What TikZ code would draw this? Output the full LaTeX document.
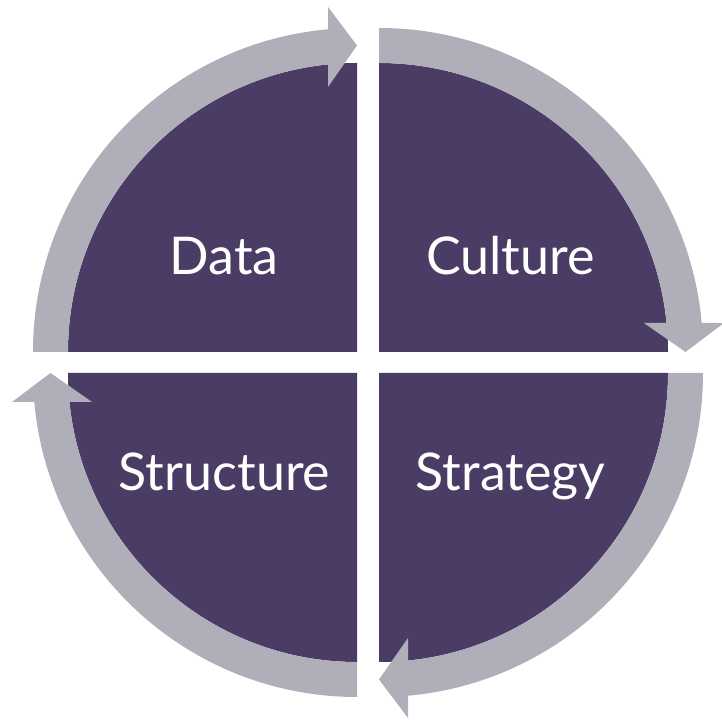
\documentclass[tikz,border=0pt]{standalone}
\usepackage{fontspec}
\setmainfont{Lato}
\usetikzlibrary{calc}
\definecolor{quartercolor}{RGB}{74,60,100}
\definecolor{bandcolor}{RGB}{176,174,185}
\tikzstyle{quarter}=[fill=quartercolor]
\tikzstyle{band}=[fill=bandcolor]
\tikzstyle{word}=[text=white,font=\fontsize{52}{62}\selectfont,inner sep=0pt,anchor=base]

\begin{document}
\begin{tikzpicture}[x=1pt,y=1pt]
				\useasboundingbox (0,0) rectangle (722,722);
				% First we draw the quarters, their bands and arrow heads
				\foreach \cx/\cy/\start/\stop in {357/370/180/90, 379/370/90/0,
										379/349/0/-90, 357/349/270/180}
				{
				\coordinate (c) at (\cx,\cy);
				\fill[quarter] (c) -- ($(c)+(\start:289)$) arc[start angle=\start, end angle=\stop, radius=289] -- cycle;
				\fill[band] ($(c)+(\start:289)$) arc[start angle=\start, end angle=\stop+4, radius=289]
					-- ($(c)+(\stop+4:324)$) arc[start angle=\stop+4, end angle=\start, radius=324] -- cycle;
				\fill[band] ($(c)+(\stop:306.5)$) -- ($(c)+(\stop:265)+(\stop+90:29)$)
					-- ($(c)+(\stop:345)+(\stop+90:29)$) -- cycle;
				}

				% Then the words
				\foreach \pos/\name/\text in {{(224,447)/data/Data}, {(510.5,447)/culture/Culture},
										{(510.5,231.5)/strategy/Strategy}, {(224.5,231.5)/structure/Structure}}
				\node[word] (\name) at \pos {\text};
			\end{tikzpicture}
\end{document}
